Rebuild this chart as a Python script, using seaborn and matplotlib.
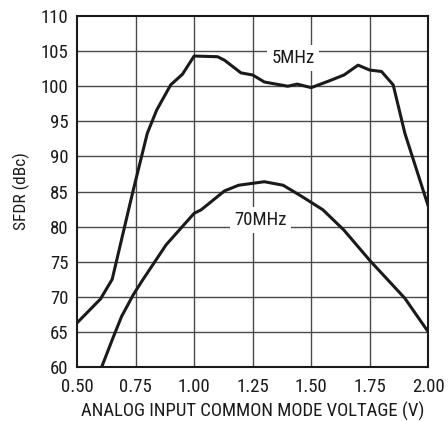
import numpy as np
import pandas as pd
import matplotlib
matplotlib.use("Agg")
import matplotlib.pyplot as plt
import seaborn as sns

# data
x_5mhz = [0.50, 0.60, 0.65, 0.72, 0.74, 0.80, 0.84, 0.90, 0.95, 1.00, 1.10, 1.13,
          1.20, 1.25, 1.30, 1.40, 1.44, 1.50, 1.58, 1.64, 1.70, 1.75, 1.80, 1.85,
          1.90, 1.95, 2.00]
y_5mhz = [66.3, 69.7, 72.5, 82.4, 85.2, 93.3, 96.6, 100.2, 101.7, 104.3, 104.2, 103.7,
          101.9, 101.6, 100.6, 100.0, 100.3, 99.8, 100.8, 101.6, 103.0, 102.3, 102.1, 100.2,
          93.3, 88.1, 82.9]
x_70mhz = [0.605, 0.655, 0.69, 0.74, 0.78, 0.88, 1.00, 1.03, 1.13, 1.19, 1.30, 1.38,
           1.46, 1.55, 1.64, 1.75, 1.90, 2.00]
y_70mhz = [60.0, 64.3, 67.2, 70.3, 72.4, 77.4, 81.9, 82.4, 85.1, 85.9, 86.4, 85.9,
           84.3, 82.4, 79.5, 75.2, 69.8, 65.0]
x_ticks = [0.50, 0.75, 1.00, 1.25, 1.50, 1.75, 2.00]
y_ticks = [60, 65, 70, 75, 80, 85, 90, 95, 100, 105, 110]

df = pd.concat([
    pd.DataFrame({"v": x_5mhz, "sfdr": y_5mhz, "freq": "5MHz"}),
    pd.DataFrame({"v": x_70mhz, "sfdr": y_70mhz, "freq": "70MHz"}),
])

sns.set_style("white")
plt.rcParams["font.family"] = ["Roboto Condensed", "Roboto", "DejaVu Sans"]

fig = plt.figure(figsize=(4.48, 4.21), dpi=100)
ax = fig.add_axes([0.172, 0.128, 0.784, 0.834])

# grid drawn as plain lines so it sits under the curves and the label boxes
for g in x_ticks[1:-1]:
    ax.axvline(g, color="#4a4a4a", lw=1.0, zorder=0)
for g in y_ticks[1:-1]:
    ax.axhline(g, color="#4a4a4a", lw=1.0, zorder=0)

sns.lineplot(data=df, x="v", y="sfdr", units="freq", estimator=None, sort=False,
             color="#1a1a1a", lw=2.2, ax=ax, legend=False)

ax.set_xlim(0.5, 2.0)
ax.set_ylim(60, 110)
ax.set_xticks(x_ticks)
ax.set_xticklabels([f"{t:.2f}" for t in x_ticks])
ax.set_yticks(y_ticks)
ax.tick_params(length=0, labelsize=13.5, colors="#1a1a1a")
ax.tick_params(axis="x", pad=8)
ax.tick_params(axis="y", pad=6)
for s in ax.spines.values():
    s.set_color("#1a1a1a")
    s.set_linewidth(1.5)

ax.set_xlabel("ANALOG INPUT COMMON MODE VOLTAGE (V)", fontsize=13.5, color="#1a1a1a", labelpad=4)
ax.set_ylabel("SFDR (dBc)", fontsize=12.5, color="#1a1a1a", labelpad=8)

box = dict(facecolor="white", edgecolor="none", pad=3)
ax.text(1.422, 104.0, "5MHz", ha="center", va="center", fontsize=13.5, color="#1a1a1a", bbox=box, zorder=3)
ax.text(1.282, 80.9, "70MHz", ha="center", va="center", fontsize=13.5, color="#1a1a1a", bbox=box, zorder=3)

fig.savefig("out.png", dpi=100)
